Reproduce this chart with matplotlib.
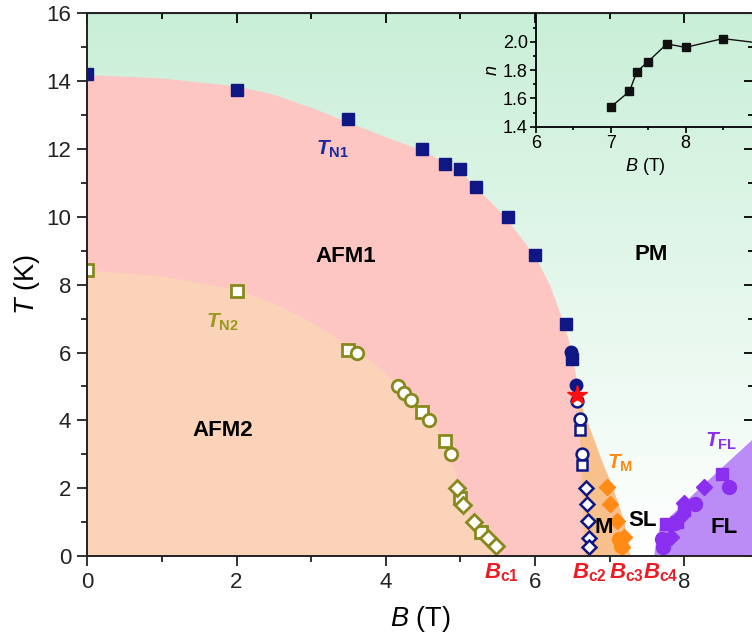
import numpy as np
import matplotlib
matplotlib.use("Agg")
import matplotlib.pyplot as plt
from matplotlib.colors import LinearSegmentedColormap

plt.rcParams['font.family'] = ['Liberation Sans', 'DejaVu Sans']
plt.rcParams['mathtext.fontset'] = 'custom'
plt.rcParams['mathtext.rm'] = 'Liberation Sans'
plt.rcParams['mathtext.it'] = 'Liberation Sans:italic:bold'
plt.rcParams['mathtext.bf'] = 'Liberation Sans:bold'
plt.rcParams['mathtext.sf'] = 'Liberation Sans:italic'

# ---- data ----
# T_N1 (navy, filled)
tn1_sq_B = [0, 2, 3.5, 4.49, 4.8, 4.99, 5.21, 5.64, 6.0, 6.42, 6.5]
tn1_sq_T = [14.2, 13.73, 12.89, 12.0, 11.56, 11.41, 10.88, 9.99, 8.87, 6.85, 5.82]
tn1_ci_B = [6.49, 6.55]
tn1_ci_T = [6.02, 5.03]
star_B = [6.57]
star_T = [4.74]
# open navy symbols (B_c2 line)
bc2_ci_B = [6.57, 6.6, 6.63]
bc2_ci_T = [4.58, 4.04, 3.0]
bc2_sq_B = [6.61, 6.63]
bc2_sq_T = [3.73, 2.68]
bc2_di_B = [6.69, 6.7, 6.71, 6.72, 6.73]
bc2_di_T = [2.02, 1.53, 1.02, 0.54, 0.27]
# T_N2 (olive, open)
tn2_sq_B = [0, 2, 3.49, 4.49, 4.79, 4.99, 5.28]
tn2_sq_T = [8.42, 7.8, 6.08, 4.25, 3.39, 1.72, 0.7]
tn2_ci_B = [3.62, 4.16, 4.25, 4.34, 4.58, 4.87]
tn2_ci_T = [5.99, 5.01, 4.81, 4.6, 4.01, 3.0]
tn2_di_B = [4.96, 5.04, 5.18, 5.37, 5.48]
tn2_di_T = [2.0, 1.51, 1.0, 0.53, 0.3]
# T_M (orange)
tm_di_B = [6.96, 7.01, 7.1, 7.2, 7.17]
tm_di_T = [2.03, 1.53, 1.03, 0.56, 0.27]
tm_ci_B = [7.13, 7.15]
tm_ci_T = [0.5, 0.3]
# T_FL (purple)
fl_sq_B = [7.76, 7.9, 8.0, 8.51]
fl_sq_T = [0.94, 1.0, 1.36, 2.42]
fl_ci_B = [7.7, 7.72, 7.88, 8.15, 8.6]
fl_ci_T = [0.5, 0.27, 0.97, 1.53, 2.03]
fl_di_B = [7.82, 7.94, 8.0, 8.26]
fl_di_T = [0.56, 1.15, 1.56, 2.03]

# phase boundaries
afm1_B = [0, 1, 2, 2.5, 3, 3.5, 4, 4.5, 5.0, 5.2, 5.6, 6.0, 6.2, 6.35, 6.45, 6.52, 6.56, 6.58, 6.62, 6.66]
afm1_T = [14.18, 14.08, 13.85, 13.6, 13.22, 12.78, 12.35, 11.95, 11.35, 10.9, 10.0, 8.85, 8.0, 7.1, 6.4, 5.7, 5.2, 4.7, 2.5, 0]
afm2_B = [0, 1, 2, 2.5, 3, 3.5, 3.8, 4.2, 4.5, 4.8, 4.93, 5.05, 5.2, 5.35, 5.52]
afm2_T = [8.42, 8.25, 7.85, 7.45, 6.9, 6.2, 5.75, 5.0, 4.35, 3.4, 2.5, 1.6, 1.0, 0.5, 0]
m_B = [6.58, 6.62, 6.66, 7.28, 7.2, 7.05, 6.9, 6.75]
m_T = [4.7, 2.5, 0, 0, 1.0, 2.0, 2.8, 3.7]
fl_B = [7.60, 7.63, 7.68, 7.76, 8.2, 9.0, 9.0]
fl_T = [0, 0.5, 0.85, 1.05, 1.98, 3.6, 0]

# inset n(B)
ins_B = [7.0, 7.25, 7.35, 7.5, 7.75, 8.0, 8.5, 9.0]
ins_n = [1.54, 1.65, 1.79, 1.86, 1.985, 1.96, 2.022, 1.99]

navy = '#0e1784'
olive = '#868a1c'
orange = '#ff8a16'
purple = '#8a2ff0'
red = '#ec1c24'

XMAX = 8.93

fig = plt.figure(figsize=(7.52, 6.44), dpi=100)
ax = fig.add_axes([0.1161, 0.1366, 0.8859, 0.8427])
ax.set_xlim(0, XMAX)
ax.set_ylim(0, 16)

# backgrounds
grad = np.linspace(0, 1, 256).reshape(-1, 1)
cmap = LinearSegmentedColormap.from_list('pm', ['#ffffff', '#c9efd8'])
ax.imshow(grad, extent=[0, XMAX, 0, 16], origin='lower', aspect='auto', cmap=cmap, zorder=0)
ax.fill(afm1_B + [0], afm1_T + [0], color='#fdc6c2', lw=0, zorder=1)
ax.fill(afm2_B + [0], afm2_T + [0], color='#fad3b8', lw=0, zorder=2)
ax.fill(m_B, m_T, color='#f8c08d', lw=0, zorder=2)
ax.fill(fl_B, fl_T, color='#bb8cf5', lw=0, zorder=2)

ms = dict(zorder=5, linestyle='none')
# navy
ax.plot(tn1_sq_B, tn1_sq_T, 's', color=navy, ms=9, **ms)
ax.plot(tn1_ci_B, tn1_ci_T, 'o', color=navy, ms=9, **ms)
ax.plot(bc2_ci_B, bc2_ci_T, 'o', mfc='white', mec=navy, mew=1.8, ms=8.5, **ms)
ax.plot(bc2_sq_B, bc2_sq_T, 's', mfc='white', mec=navy, mew=1.8, ms=7.5, **ms)
ax.plot(bc2_di_B, bc2_di_T, 'D', mfc='white', mec=navy, mew=1.8, ms=7.5, **ms)
ax.plot(star_B, star_T, '*', color='#ff1010', ms=15, zorder=6, linestyle='none')
# olive
ax.plot(tn2_sq_B, tn2_sq_T, 's', mfc='white', mec=olive, mew=2, ms=8, **ms)
ax.plot(tn2_ci_B, tn2_ci_T, 'o', mfc='white', mec=olive, mew=2, ms=9, **ms)
ax.plot(tn2_di_B, tn2_di_T, 'D', mfc='white', mec=olive, mew=2, ms=8, **ms)
# orange
ax.plot(tm_ci_B, tm_ci_T, 'o', color=orange, ms=10, **ms)
ax.plot(tm_di_B, tm_di_T, 'D', color=orange, ms=8.5, **ms)
# purple
ax.plot(fl_ci_B, fl_ci_T, 'o', color=purple, ms=10, **ms)
ax.plot(fl_sq_B, fl_sq_T, 's', color=purple, ms=9, **ms)
ax.plot(fl_di_B, fl_di_T, 'D', color=purple, ms=8.5, **ms)

# texts
bold = dict(fontsize=16, fontweight='bold', ha='center', va='center', zorder=7)
ax.text(3.47, 8.82, 'AFM1', **bold)
ax.text(1.82, 3.69, 'AFM2', **bold)
ax.text(7.56, 8.88, 'PM', **bold)
ax.text(6.92, 0.83, 'M', **bold)
ax.text(7.45, 1.06, 'SL', **bold)
ax.text(8.54, 0.83, 'FL', **bold)
lab = dict(fontsize=15, ha='center', va='center', zorder=7)
ax.text(3.28, 12.0, r'$T_{\mathbf{N1}}$', color='#1c2a9c', **lab)
ax.text(1.81, 6.9, r'$T_{\mathbf{N2}}$', color='#9a9a22', **lab)
ax.text(7.14, 2.74, r'$T_{\mathbf{M}}$', color=orange, **lab)
ax.text(8.5, 3.38, r'$T_{\mathbf{FL}}$', color=purple, **lab)
for xb, s in zip([5.55, 6.73, 7.22, 7.69], ['c1', 'c2', 'c3', 'c4']):
    ax.text(xb, -0.66, r'$B_{\mathbf{%s}}$' % s, color=red, fontsize=16,
            ha='center', va='baseline', clip_on=False, zorder=7)

# axes styling
ax.set_xticks([0, 2, 4, 6, 8])
ax.set_xticks([1, 3, 5, 7], minor=True)
ax.set_yticks(range(0, 17, 2))
ax.set_yticks(range(1, 16, 2), minor=True)
ax.tick_params(which='both', direction='out', labelsize=16, width=1.3, colors='#222222')
ax.tick_params(which='major', length=7.5, pad=4)
ax.tick_params(which='minor', length=4.5)
for sp in ax.spines.values():
    sp.set_linewidth(1.4)
    sp.set_color('#222222')
    sp.set_zorder(8)
top = ax.secondary_xaxis('top')
top.set_xticks([0, 2, 4, 6, 8])
top.set_xticks([1, 3, 5, 7], minor=True)
top.tick_params(which='both', direction='in', labeltop=False, width=1.3)
top.tick_params(which='major', length=7.5)
top.tick_params(which='minor', length=4.5)
right = ax.secondary_yaxis('right')
right.set_yticks(range(0, 17, 2))
right.set_yticks(range(1, 16, 2), minor=True)
right.tick_params(which='both', direction='in', labelright=False, width=1.3)
right.tick_params(which='major', length=7.5)
right.tick_params(which='minor', length=4.5)

ax.set_xlabel(r'$\mathsf{B}$ (T)', fontsize=19.5, labelpad=8)
ax.set_ylabel(r'$\mathsf{T}$ (K)', fontsize=19.5, labelpad=3)

# inset
ins = fig.add_axes([0.7128, 0.803, 0.2912, 0.1763])
ins.patch.set_alpha(0)
ins.plot(ins_B, ins_n, 's-', color='#111111', ms=6, lw=1)
ins.set_xlim(6, 8.93)
ins.set_ylim(1.4, 2.2)
ins.set_xticks([6, 7, 8])
ins.set_xticks([6.5, 7.5, 8.5], minor=True)
ins.set_yticks([1.4, 1.6, 1.8, 2.0])
ins.set_yticks([1.5, 1.7, 1.9, 2.1], minor=True)
ins.tick_params(which='both', direction='out', labelsize=13, width=1.2, pad=2)
ins.tick_params(which='major', length=4)
ins.tick_params(which='minor', length=2.5)
for sp in ['top', 'right']:
    ins.spines[sp].set_visible(False)
for sp in ['left', 'bottom']:
    ins.spines[sp].set_linewidth(1.3)
ins.set_xlabel(r'$\mathsf{B}$ (T)', fontsize=13, labelpad=3)
ins.set_ylabel(r'$\mathsf{n}$', fontsize=13, labelpad=1)

fig.savefig('out.png', dpi=100)
